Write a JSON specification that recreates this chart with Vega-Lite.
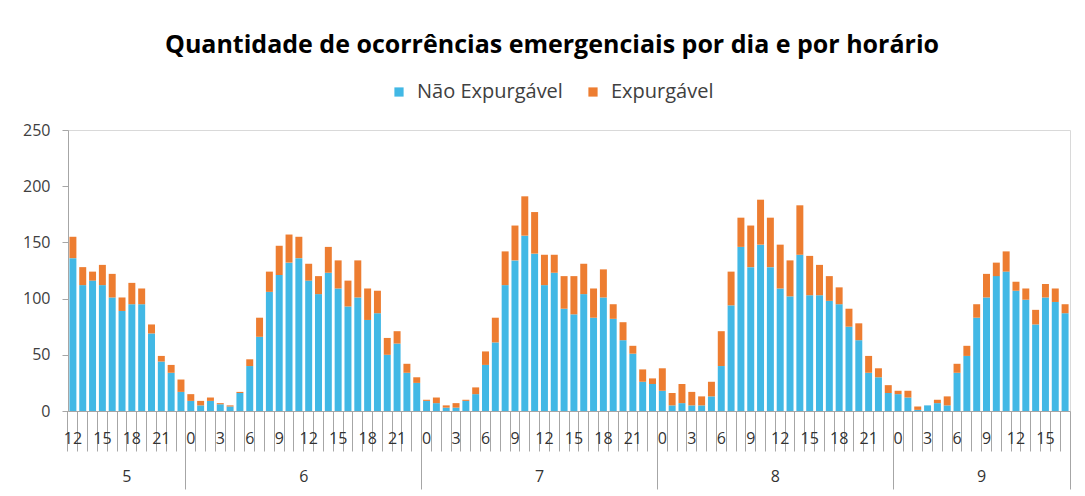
{
  "$schema": "https://vega.github.io/schema/vega-lite/v6.json",
  "width": 1002,
  "height": 281,
  "autosize": {"type": "none"},
  "padding": {"left": 68, "top": 130, "right": 15, "bottom": 85},
  "background": "white",
  "title": {"text": "Quantidade de ocorrências emergenciais por dia e por horário", "font": "Open Sans", "fontSize": 25, "fontWeight": "bold", "color": "#000000", "anchor": "middle", "dx": -17, "offset": 24},
  "config": {"view": {"stroke": "#D9D9D9"}, "font": "Open Sans"},
  "data": {"values": [
    {"d":5,"h":12,"n":136,"e":19},{"d":5,"h":13,"n":112,"e":16},{"d":5,"h":14,"n":116,"e":8},{"d":5,"h":15,"n":112,"e":18},
    {"d":5,"h":16,"n":101,"e":21},{"d":5,"h":17,"n":89,"e":12},{"d":5,"h":18,"n":95,"e":19},{"d":5,"h":19,"n":95,"e":14},
    {"d":5,"h":20,"n":69,"e":8},{"d":5,"h":21,"n":44,"e":5},{"d":5,"h":22,"n":34,"e":7},{"d":5,"h":23,"n":17,"e":11},
    {"d":6,"h":0,"n":9,"e":6},{"d":6,"h":1,"n":5,"e":4},{"d":6,"h":2,"n":9,"e":3},{"d":6,"h":3,"n":6,"e":1},
    {"d":6,"h":4,"n":4,"e":1},{"d":6,"h":5,"n":16,"e":1},{"d":6,"h":6,"n":40,"e":6},{"d":6,"h":7,"n":66,"e":17},
    {"d":6,"h":8,"n":106,"e":18},{"d":6,"h":9,"n":121,"e":26},{"d":6,"h":10,"n":132,"e":25},{"d":6,"h":11,"n":136,"e":19},
    {"d":6,"h":12,"n":116,"e":15},{"d":6,"h":13,"n":104,"e":16},{"d":6,"h":14,"n":123,"e":23},{"d":6,"h":15,"n":109,"e":25},
    {"d":6,"h":16,"n":93,"e":23},{"d":6,"h":17,"n":101,"e":33},{"d":6,"h":18,"n":81,"e":28},{"d":6,"h":19,"n":87,"e":20},
    {"d":6,"h":20,"n":50,"e":15},{"d":6,"h":21,"n":60,"e":11},{"d":6,"h":22,"n":34,"e":8},{"d":6,"h":23,"n":25,"e":5},
    {"d":7,"h":0,"n":9,"e":1},{"d":7,"h":1,"n":7,"e":5},{"d":7,"h":2,"n":3,"e":2},{"d":7,"h":3,"n":3,"e":4},
    {"d":7,"h":4,"n":9,"e":1},{"d":7,"h":5,"n":15,"e":6},{"d":7,"h":6,"n":41,"e":12},{"d":7,"h":7,"n":61,"e":22},
    {"d":7,"h":8,"n":112,"e":30},{"d":7,"h":9,"n":134,"e":31},{"d":7,"h":10,"n":156,"e":35},{"d":7,"h":11,"n":140,"e":37},
    {"d":7,"h":12,"n":112,"e":27},{"d":7,"h":13,"n":123,"e":16},{"d":7,"h":14,"n":91,"e":29},{"d":7,"h":15,"n":86,"e":34},
    {"d":7,"h":16,"n":104,"e":27},{"d":7,"h":17,"n":83,"e":26},{"d":7,"h":18,"n":101,"e":25},{"d":7,"h":19,"n":82,"e":13},
    {"d":7,"h":20,"n":63,"e":16},{"d":7,"h":21,"n":51,"e":7},{"d":7,"h":22,"n":26,"e":11},{"d":7,"h":23,"n":24,"e":5},
    {"d":8,"h":0,"n":18,"e":20},{"d":8,"h":1,"n":5,"e":11},{"d":8,"h":2,"n":7,"e":17},{"d":8,"h":3,"n":5,"e":12},
    {"d":8,"h":4,"n":5,"e":8},{"d":8,"h":5,"n":13,"e":13},{"d":8,"h":6,"n":40,"e":31},{"d":8,"h":7,"n":94,"e":30},
    {"d":8,"h":8,"n":146,"e":26},{"d":8,"h":9,"n":128,"e":37},{"d":8,"h":10,"n":148,"e":40},{"d":8,"h":11,"n":128,"e":44},
    {"d":8,"h":12,"n":109,"e":39},{"d":8,"h":13,"n":102,"e":32},{"d":8,"h":14,"n":139,"e":44},{"d":8,"h":15,"n":103,"e":35},
    {"d":8,"h":16,"n":103,"e":27},{"d":8,"h":17,"n":98,"e":22},{"d":8,"h":18,"n":95,"e":15},{"d":8,"h":19,"n":75,"e":16},
    {"d":8,"h":20,"n":63,"e":15},{"d":8,"h":21,"n":34,"e":15},{"d":8,"h":22,"n":30,"e":8},{"d":8,"h":23,"n":16,"e":7},
    {"d":9,"h":0,"n":15,"e":3},{"d":9,"h":1,"n":12,"e":6},{"d":9,"h":2,"n":1,"e":3},{"d":9,"h":3,"n":5,"e":0},
    {"d":9,"h":4,"n":7,"e":3},{"d":9,"h":5,"n":5,"e":8},{"d":9,"h":6,"n":34,"e":8},{"d":9,"h":7,"n":49,"e":9},
    {"d":9,"h":8,"n":83,"e":12},{"d":9,"h":9,"n":101,"e":21},{"d":9,"h":10,"n":120,"e":12},{"d":9,"h":11,"n":124,"e":18},
    {"d":9,"h":12,"n":107,"e":8},{"d":9,"h":13,"n":99,"e":10},{"d":9,"h":14,"n":77,"e":13},{"d":9,"h":15,"n":101,"e":12},
    {"d":9,"h":16,"n":97,"e":12},{"d":9,"h":17,"n":87,"e":8}
  ]},
  "transform": [
    {"calculate": "datum.d * 100 + datum.h", "as": "k"},
    {"fold": ["n", "e"], "as": ["s", "v"]},
    {"calculate": "datum.s == 'n' ? 'Não Expurgável' : 'Expurgável'", "as": "serie"},
    {"calculate": "datum.s == 'n' ? 0 : 1", "as": "o"}
  ],
  "resolve": {"axis": {"x": "independent"}},
  "layer": [
    {
      "mark": {"type": "bar", "width": {"band": 0.71}},
      "encoding": {
        "x": {"field": "k", "type": "ordinal", "scale": {"paddingInner": 0, "paddingOuter": 0},
          "axis": {"orient": "bottom", "title": null, "bandPosition": 0, "tickSize": 40, "tickColor": "#A6A6A6", "domainColor": "#A6A6A6", "labelAngle": 0, "labelPadding": -21, "labelFontSize": 16, "labelColor": "#333333", "labelOverlap": false, "labelExpr": "(datum.value % 100) % 3 == 0 ? '' + (datum.value % 100) : ''", "offset": 0, "zindex": 1}},
        "y": {"field": "v", "type": "quantitative", "stack": "zero", "scale": {"domain": [0, 250], "nice": false},
          "axis": {"title": null, "values": [0, 50, 100, 150, 200, 250], "grid": false, "tickSize": 6, "tickColor": "#A6A6A6", "domainColor": "#A6A6A6", "labelFontSize": 16, "labelColor": "#404040", "labelPadding": 12}},
        "color": {"field": "serie", "type": "nominal", "scale": {"domain": ["Não Expurgável", "Expurgável"], "range": ["#42B8E5", "#ED7D31"]},
          "legend": {"title": null, "orient": "none", "legendX": 321, "legendY": -48, "direction": "horizontal", "symbolType": "square", "symbolSize": 85, "symbolStrokeWidth": 0, "labelFont": "Open Sans", "labelFontSize": 20, "labelColor": "#404040", "columnPadding": 20, "labelOffset": 8}},
        "order": {"field": "o", "type": "quantitative"}
      }
    },
    {
      "mark": {"type": "bar", "opacity": 0},
      "encoding": {
        "x": {"field": "k", "type": "ordinal",
          "axis": {"orient": "bottom", "title": null, "values": [517, 611, 711, 811, 908], "ticks": false, "tickSize": 0, "domain": false, "labelOffset": 4.9, "labelPadding": 57, "labelAngle": 0, "labelFontSize": 16, "labelColor": "#333333", "labelExpr": "'' + floor(datum.value / 100)", "offset": 0}}
      }
    },
    {
      "mark": {"type": "bar", "opacity": 0},
      "encoding": {
        "x": {"field": "k", "type": "ordinal",
          "axis": {"orient": "bottom", "title": null, "values": [512, 600, 700, 800, 900], "bandPosition": 0, "tickSize": 78, "tickColor": "#A6A6A6", "domain": false, "labels": false, "offset": 0}}
      }
    },
    {
      "mark": {"type": "bar", "opacity": 0},
      "encoding": {
        "x": {"field": "k", "type": "ordinal",
          "axis": {"orient": "bottom", "title": null, "values": [917], "bandPosition": 1, "tickSize": 78, "tickColor": "#A6A6A6", "domain": false, "labels": false, "offset": 0}}
      }
    }
  ]
}
